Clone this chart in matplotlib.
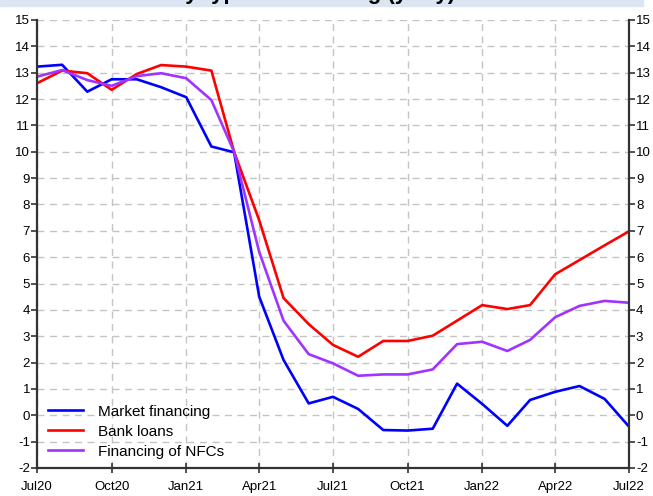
import numpy as np
import matplotlib.pyplot as plt
import pandas as pd

plt.rcParams['font.family'] = ['Liberation Sans', 'DejaVu Sans']
plt.rcParams['axes.unicode_minus'] = False

# monthly data, Jul20 .. Jul22 (% y-o-y)
months = pd.date_range("2020-07-01", "2022-07-01", freq="MS")
market = [13.23, 13.3, 12.28, 12.75, 12.75, 12.45, 12.07, 10.2, 9.98, 4.5, 2.1, 0.45, 0.7,
          0.24, -0.56, -0.58, -0.51, 1.2, 0.43, -0.4, 0.58, 0.89, 1.11, 0.62, -0.43]
bank = [12.6, 13.08, 12.98, 12.35, 12.95, 13.29, 13.23, 13.08, 10.0, 7.4, 4.45, 3.46, 2.67,
        2.22, 2.82, 2.82, 3.02, 3.59, 4.18, 4.03, 4.18, 5.35, 5.89, 6.45, 6.98]
nfc = [12.85, 13.1, 12.72, 12.5, 12.87, 12.98, 12.79, 11.96, 10.0, 6.2, 3.59, 2.32, 1.97,
       1.5, 1.55, 1.55, 1.74, 2.7, 2.79, 2.44, 2.86, 3.72, 4.15, 4.34, 4.27]

tick_dates = pd.date_range("2020-07-01", "2022-07-01", freq="3MS")
tick_labels = [d.strftime("%b%y") for d in tick_dates]

fig = plt.figure(figsize=(6.53, 4.96), dpi=100)

# title band at top (cut off in the original, only the descenders show)
fig.patches.append(plt.Rectangle((0, 0.988), 0.985, 0.012, transform=fig.transFigure,
                                 color='#dce6f2', zorder=0))
fig.text(0.697, 1.002, "Growth by type of financing (y-o-y)", ha='right',
         va='baseline', fontsize=16, fontweight='bold', color='black')

ax = fig.add_axes([0.0567, 0.0565, 0.9065, 0.9032])

ax.plot(months, market, color='#0000ff', lw=1.9, label='Market financing')
ax.plot(months, bank, color='#ff0000', lw=1.9, label='Bank loans')
ax.plot(months, nfc, color='#a033ff', lw=1.9, label='Financing of NFCs')

ax.set_xlim(months[0], months[-1])
ax.set_ylim(-2, 15)
ax.set_yticks(np.arange(-2, 16, 1))
ax.set_xticks(tick_dates)
ax.set_xticklabels(tick_labels)

ax.grid(True, linestyle=(0, (5, 4)), color='#c4c4c4', linewidth=1)
ax.set_axisbelow(True)

ax.spines['top'].set_visible(False)
for s in ['left', 'right', 'bottom']:
    ax.spines[s].set_color('#333333')
    ax.spines[s].set_linewidth(1.6)

ax.tick_params(axis='y', which='both', left=True, right=True, labelleft=True,
               labelright=True, direction='out', length=4, width=1.2,
               labelsize=9.5, pad=1, color='#333333')
ax.tick_params(axis='x', direction='inout', length=7, width=1.2, labelsize=9.5,
               pad=6, color='#333333')

ax.legend(loc='lower left', frameon=False, fontsize=11, handlelength=2.3,
          handletextpad=1.0, labelspacing=0.4, borderaxespad=0.2,
          bbox_to_anchor=(0.003, 0.0))

fig.savefig("out.png", dpi=100)
